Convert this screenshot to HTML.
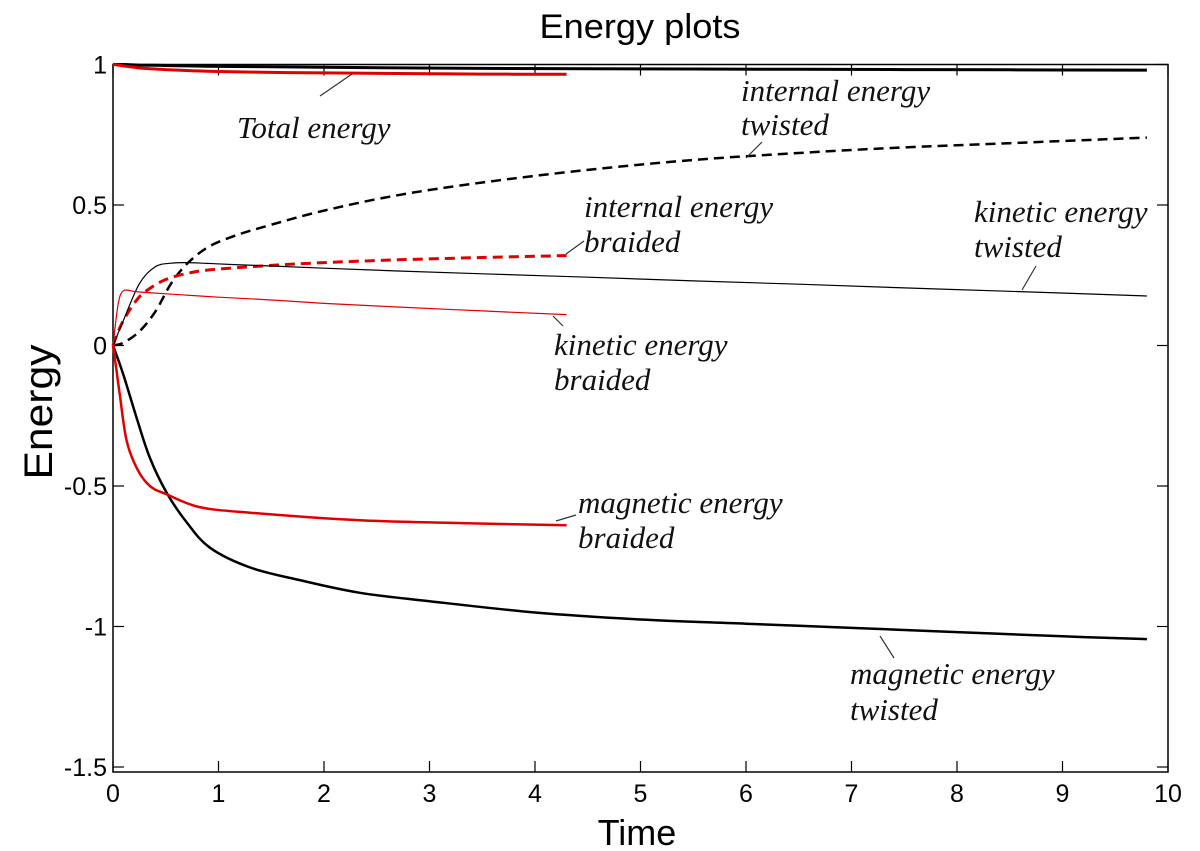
<!DOCTYPE html>
<html><head><meta charset="utf-8">
<style>
html,body{margin:0;padding:0;background:#fff;}
svg{display:block;}
.tk{font-family:"Liberation Sans",sans-serif;font-size:25px;fill:#000;}
.an{font-family:"Liberation Serif",serif;font-style:italic;font-size:31px;fill:#111;}
</style></head>
<body>
<svg id="chart" width="1200" height="851" viewBox="0 0 1200 851">
<rect x="0" y="0" width="1200" height="851" fill="#fff"/>
<text x="640" y="38" text-anchor="middle" font-family="Liberation Sans, sans-serif" font-size="34" textLength="201" lengthAdjust="spacingAndGlyphs">Energy plots</text>
<text x="637" y="845" text-anchor="middle" font-family="Liberation Sans, sans-serif" font-size="36">Time</text>
<text transform="translate(52,412) rotate(-90)" text-anchor="middle" font-family="Liberation Sans, sans-serif" font-size="40" textLength="135" lengthAdjust="spacingAndGlyphs">Energy</text>
<g id="axes"></g>
<g id="series"></g>
<g stroke="#333" stroke-width="1.2">
<line x1="320" y1="96" x2="352" y2="74"/>
<line x1="746" y1="158" x2="762" y2="142"/>
<line x1="1022" y1="290" x2="1036" y2="266"/>
<line x1="566" y1="254" x2="584" y2="241"/>
<line x1="553" y1="316" x2="563" y2="326"/>
<line x1="556" y1="521" x2="576" y2="515"/>
<line x1="880" y1="636" x2="894" y2="658"/>
</g>
<g>
<text class="an" x="237" y="138">Total energy</text>
<text class="an" x="741" y="101">internal energy</text>
<text class="an" x="741" y="135">twisted</text>
<text class="an" x="974" y="222">kinetic energy</text>
<text class="an" x="974" y="257">twisted</text>
<text class="an" x="584" y="217">internal energy</text>
<text class="an" x="584" y="252">braided</text>
<text class="an" x="554" y="355">kinetic energy</text>
<text class="an" x="554" y="390">braided</text>
<text class="an" x="578" y="513">magnetic energy</text>
<text class="an" x="578" y="548">braided</text>
<text class="an" x="850" y="684">magnetic energy</text>
<text class="an" x="850" y="720">twisted</text>
</g>
</svg>
<script>
const xTicks = [0,1,2,3,4,5,6,7,8,9,10];
const yTicks = [1,0.5,0,-0.5,-1,-1.5];
const yTickLabels = ["1","0.5","0","-0.5","-1","-1.5"];

const tTwisted = [0,0.1,0.25,0.4,0.55,0.7,0.9,1.15,1.5,2,2.7,3.5,4.5,5.5,6.5,7.5,8.5,9.8];
const totalTwisted = [1,1,0.998,0.997,0.996,0.995,0.994,0.993,0.992,0.99,0.988,0.986,0.985,0.984,0.983,0.982,0.981,0.98];
const internalTwisted = [0,0.01,0.05,0.12,0.22,0.29,0.35,0.39,0.43,0.48,0.535,0.58,0.625,0.66,0.685,0.705,0.72,0.74];
const kineticTwisted = [0,0.09,0.22,0.28,0.293,0.295,0.292,0.288,0.283,0.275,0.265,0.255,0.243,0.23,0.218,0.205,0.193,0.176];
const tMagTwisted = [0,0.095,0.23,0.35,0.51,0.7,0.92,1.3,1.77,2.34,3,4,5,6,7,8,9,9.8];
const magneticTwisted = [0,-0.1,-0.265,-0.4,-0.525,-0.63,-0.72,-0.79,-0.835,-0.88,-0.91,-0.95,-0.975,-0.99,-1.005,-1.02,-1.035,-1.045];

const tBraided = [0,0.05,0.1,0.2,0.3,0.5,0.75,1,1.5,2,2.7,3.5,4.3];
const totalBraided = [1,0.998,0.995,0.99,0.986,0.982,0.978,0.975,0.972,0.97,0.968,0.966,0.965];
const internalBraided = [0,0.05,0.09,0.15,0.19,0.235,0.26,0.272,0.285,0.295,0.305,0.313,0.32];
const kineticBraided = [0,0.15,0.195,0.192,0.189,0.184,0.178,0.172,0.162,0.15,0.137,0.123,0.11];
const tMagBraided = [0,0.03,0.066,0.13,0.23,0.35,0.51,0.82,1.3,2.34,3.3,4.3];
const magneticBraided = [0,-0.08,-0.18,-0.34,-0.44,-0.5,-0.53,-0.575,-0.595,-0.622,-0.632,-0.64];

const X0=113, XS=105.5, Y0=345.5, YS=281;
const L=113, R=1168, T=64.5, B=772;
const sx = v => X0 + v*XS;
const sy = v => Y0 - v*YS;
const NS='http://www.w3.org/2000/svg';
const axes=document.getElementById('axes');
const series=document.getElementById('series');

function mk(tag, attrs, parent){const e=document.createElementNS(NS,tag);for(const k in attrs)e.setAttribute(k,attrs[k]);parent.appendChild(e);return e;}

const frame = mk('rect',{x:L,y:T,width:R-L,height:B-T,fill:'none',stroke:'#000','stroke-width':1.5},axes);



xTicks.forEach(v=>{
  const x=sx(v);
  const t1=mk('line',{x1:x,y1:B,x2:x,y2:B-11,stroke:'#000','stroke-width':1.2},axes);
  
  
  const t2=mk('line',{x1:x,y1:T,x2:x,y2:T+11,stroke:'#000','stroke-width':1.2},axes);
  
  
  const lb=mk('text',{x:x,y:B+30,'text-anchor':'middle',class:'tk'},axes);
  lb.textContent=String(v);
  
  
});
yTicks.forEach((v,i)=>{
  const y=sy(v);
  const t1=mk('line',{x1:L,y1:y,x2:L+11,y2:y,stroke:'#000','stroke-width':1.2},axes);
  
  
  const t2=mk('line',{x1:R,y1:y,x2:R-11,y2:y,stroke:'#000','stroke-width':1.2},axes);
  
  
  const lb=mk('text',{x:L-6,y:y+9,'text-anchor':'end',class:'tk'},axes);
  lb.textContent=yTickLabels[i];
  
  
});

function line(ts, vs, color, width, dash, name){
  const pts = ts.map((t,i)=>[sx(t),sy(vs[i])]);
  let d='M'+pts[0][0].toFixed(1)+','+pts[0][1].toFixed(1);
  for(let i=0;i<pts.length-1;i++){
    const p0=pts[Math.max(0,i-1)],p1=pts[i],p2=pts[i+1],p3=pts[Math.min(pts.length-1,i+2)];
    const c1x=p1[0]+(p2[0]-p0[0])/6,c1y=p1[1]+(p2[1]-p0[1])/6;
    const c2x=p2[0]-(p3[0]-p1[0])/6,c2y=p2[1]-(p3[1]-p1[1])/6;
    d+=' C'+c1x.toFixed(1)+','+c1y.toFixed(1)+' '+c2x.toFixed(1)+','+c2y.toFixed(1)+' '+p2[0].toFixed(1)+','+p2[1].toFixed(1);
  }
  const p = mk('path',{d:d,fill:'none',stroke:color,'stroke-width':width,'stroke-linejoin':'round'},series);
  if(dash) p.setAttribute('stroke-dasharray',dash);
  
  
}
line(tTwisted,totalTwisted,'#000',3,null,'total-energy-twisted');
line(tBraided,totalBraided,'#e00000',3,null,'total-energy-braided');
line(tTwisted,internalTwisted,'#000',2.5,'10,6','internal-energy-twisted');
line(tBraided,internalBraided,'#e00000',3,'10,6','internal-energy-braided');
line(tTwisted,kineticTwisted,'#000',1.2,null,'kinetic-energy-twisted');
line(tBraided,kineticBraided,'#e00000',1.2,null,'kinetic-energy-braided');
line(tMagTwisted,magneticTwisted,'#000',2.5,null,'magnetic-energy-twisted');
line(tMagBraided,magneticBraided,'#e00000',2.5,null,'magnetic-energy-braided');
</script>
</body></html>
